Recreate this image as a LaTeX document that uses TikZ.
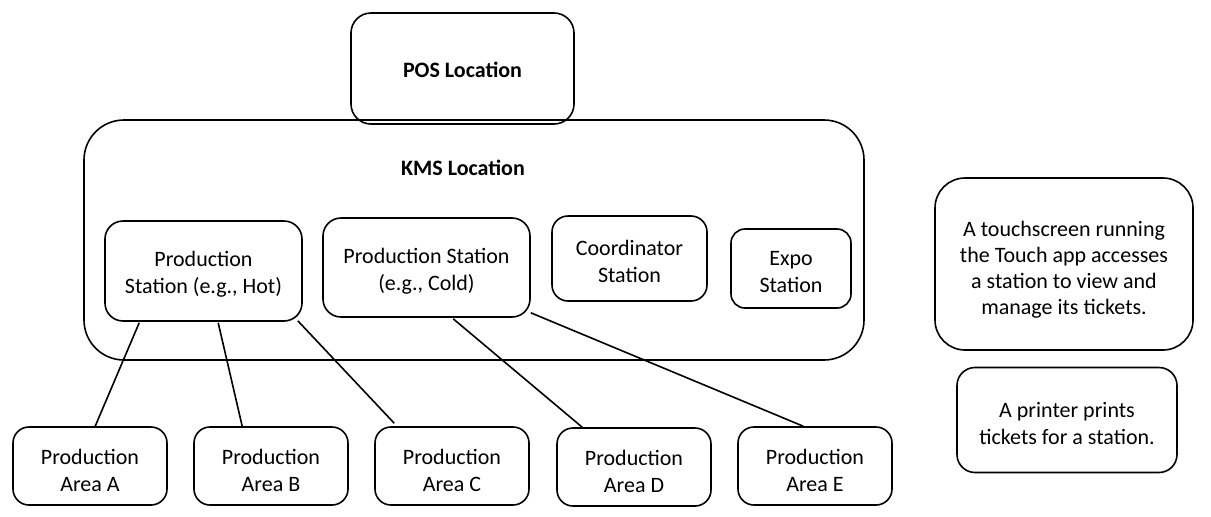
\documentclass[tikz,border=0pt]{standalone}
\usepackage{fontspec}
\setmainfont{Carlito}
\usetikzlibrary{calc}
\begin{document}
\begin{tikzpicture}[x=1pt,y=-1pt,
  every node/.style={font=\fontsize{22}{27}\selectfont, align=center, inner sep=0pt},
  box/.style={draw=black, line width=1.6pt, rounded corners=#1},
  box/.default=16pt,
  lbl/.style={font=\fontsize{22}{27}\selectfont},
  blbl/.style={font=\fontsize{22}{27}\selectfont\bfseries},
  area/.style={box, minimum width=154pt, minimum height=78pt},
  link/.style={draw=black, line width=1.6pt}]
\useasboundingbox (0,0) rectangle (1211,517);
% containers
\node[box=40pt, minimum width=780pt, minimum height=240pt] (kms) at (474,240) {};
\node[blbl] (kmslabel) at (463,168) {KMS Location};
\node[box=20pt, minimum width=223pt, minimum height=111pt] (pos) at (462.5,68.5) {};
\node[blbl] (poslabel) at ($(pos)+(0,1.6)$) {POS Location};
% stations
\node[box=18pt, minimum width=197pt, minimum height=100pt] (hot) at (203.5,271) {};
\node[lbl] (hottext) at ($(hot)+(0,3.5)$) {Production\\Station (e.g., Hot)};
\node[box=18pt, minimum width=207pt, minimum height=99pt] (cold) at (426.5,267.5) {};
\node[lbl] (coldtext) at ($(cold)+(0,4)$) {Production Station\\(e.g., Cold)};
\node[box=16pt, minimum width=155pt, minimum height=85pt] (coord) at (629.5,258.5) {};
\node[lbl] (coordtext) at ($(coord)+(0,2.5)$) {Coordinator\\Station};
\node[box=14pt, minimum width=120pt, minimum height=79pt] (expo) at (791,268.5) {};
\node[lbl] (expotext) at ($(expo)+(0,3.3)$) {Expo\\Station};
% notes
\node[box=30pt, minimum width=258pt, minimum height=172pt] (touch) at (1064,264) {};
\node[font=\fontsize{22}{26}\selectfont] (touchtext) at ($(touch)+(0,6)$) {A touchscreen running\\the Touch app accesses\\a station to view and\\manage its tickets.};
\node[box=18pt, minimum width=220pt, minimum height=105pt] (printer) at (1067,420) {};
\node[lbl] (printertext) at ($(printer)+(0,3.5)$) {A printer prints\\tickets for a station.};
% production areas
\node[area] (A) at (90,466) {};
\node[lbl] (Atext) at ($(A)+(0,4.5)$) {Production\\Area A};
\node[area] (B) at (271,466) {};
\node[lbl] (Btext) at ($(B)+(0,4.5)$) {Production\\Area B};
\node[area] (C) at (452,466) {};
\node[lbl] (Ctext) at ($(C)+(0,4.5)$) {Production\\Area C};
\node[area] (D) at (634,467) {};
\node[lbl] (Dtext) at ($(D)+(0,4.5)$) {Production\\Area D};
\node[area] (E) at (815,466) {};
\node[lbl] (Etext) at ($(E)+(0,4.5)$) {Production\\Area E};
% connectors
\draw[link] ($(hot.south west)+(35,1)$) -- ($(A.north west)+(83,0)$);
\draw[link] ($(hot.south west)+(114,1)$) -- ($(B.north west)+(49,0)$);
\draw[link] ($(hot.south east)+(-5,-1)$) -- ($(C.north west)+(20,-3)$);
\draw[link] ($(cold.south west)+(131,1)$) -- ($(D.north west)+(26,0)$);
\draw[link] ($(cold.south east)+(0,-5)$) -- ($(E.north west)+(66,0)$);
\end{tikzpicture}
\end{document}
